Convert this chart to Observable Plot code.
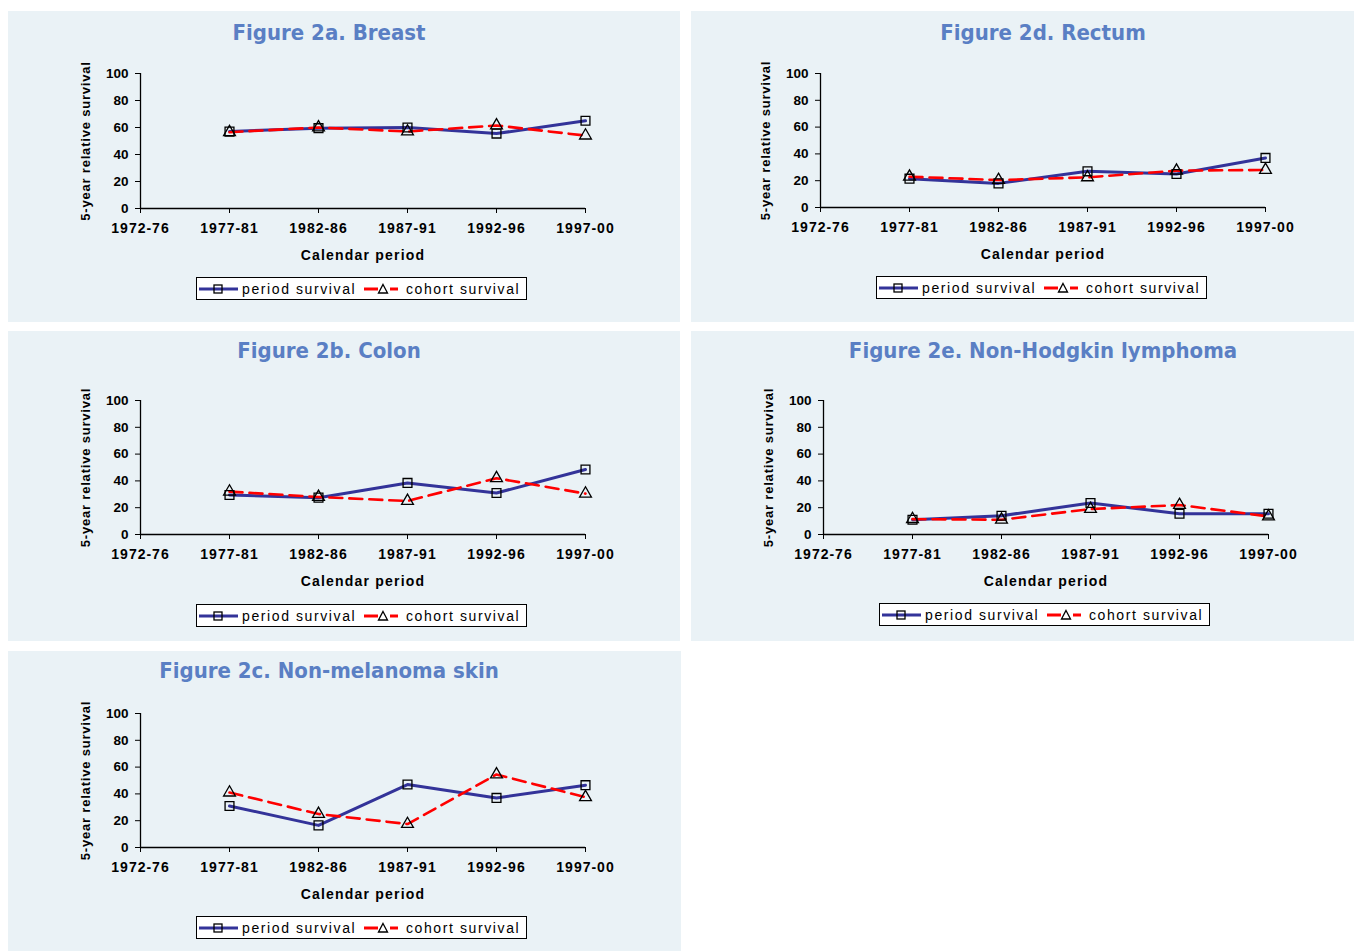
<!DOCTYPE html>
<html>
<head>
<meta charset="utf-8">
<script src="https://cdn.jsdelivr.net/npm/d3@7"></script>
<script src="https://cdn.jsdelivr.net/npm/@observablehq/plot@0.6"></script>
<style>
  html, body { margin: 0; padding: 0; background: #ffffff; }
  body { width: 1354px; height: 951px; position: relative; overflow: hidden; }
  .panel { position: absolute; background: #eaf2f6; }
  .title { position: absolute; transform: translate(-50%, -50%); white-space: nowrap;
    font-family: "DejaVu Sans Condensed", "DejaVu Sans", sans-serif; font-weight: bold;
    font-size: 22px; color: #5a7fc4; }
  .panel svg.plot { position: absolute; left: 0; top: 0; }
  .panel svg.plot g[aria-label="x-axis tick label"] text { letter-spacing: 1px; }
  .legend { position: absolute; height: 21px; width: 329px; background: #fff; border: 1px solid #000;
    display: flex; align-items: center; font-family: "Liberation Sans", Arial, sans-serif;
    font-size: 14px; letter-spacing: 1.6px; color: #000; box-sizing: content-box; }
  .legend svg { display: block; flex: none; }
  .legend span { white-space: nowrap; flex: none; }
</style>
</head>
<body>
<script>
// ---- data ----
const periods = ["1972-76", "1977-81", "1982-86", "1987-91", "1992-96", "1997-00"];
const yTicks = [0, 20, 40, 60, 80, 100];
const xLabel = "Calendar period";
const yLabel = "5-year relative survival";
const seriesNames = ["period survival", "cohort survival"];

// values for 1977-81 .. 1997-00 (no value for 1972-76)
const breastPeriod = [57, 59.5, 60, 55.5, 65];
const breastCohort = [56.5, 60, 57, 61.5, 54];
const rectumPeriod = [21.5, 18, 27, 25, 37];
const rectumCohort = [23, 20.5, 22.5, 27.5, 28];
const colonPeriod  = [29.5, 27.5, 38.5, 31, 48.5];
const colonCohort  = [32, 28, 25, 42, 30.5];
const nhlPeriod    = [11, 14, 23.5, 15.5, 15.5];
const nhlCohort    = [11.5, 11, 19, 22, 13.5];
const skinPeriod   = [31, 16.5, 47, 37, 46.5];
const skinCohort   = [41, 25, 17.5, 54.5, 37.5];

const titles = {
  breast: "Figure 2a. Breast",
  rectum: "Figure 2d. Rectum",
  colon: "Figure 2b. Colon",
  nhl: "Figure 2e. Non-Hodgkin lymphoma",
  skin: "Figure 2c. Non-melanoma skin"
};
const seriesData = {
  breast: [breastPeriod, breastCohort],
  rectum: [rectumPeriod, rectumCohort],
  colon: [colonPeriod, colonCohort],
  nhl: [nhlPeriod, nhlCohort],
  skin: [skinPeriod, skinCohort]
};

// ---- layout (positions only) ----
const layout = [
  {key: "breast", left: 8,   top: 11,  w: 672, h: 311, tx: 321, ty: 21, fl: 132, fr: 577, y100: 62, y0: 197, lx: 188, ly: 266},
  {key: "rectum", left: 691, top: 11,  w: 663, h: 311, tx: 352, ty: 21, fl: 129, fr: 574, y100: 62, y0: 196, lx: 185, ly: 265},
  {key: "colon",  left: 8,   top: 331, w: 672, h: 310, tx: 321, ty: 19, fl: 132, fr: 577, y100: 69, y0: 203, lx: 188, ly: 273},
  {key: "nhl",    left: 691, top: 331, w: 663, h: 310, tx: 352, ty: 19, fl: 132, fr: 577, y100: 69, y0: 203, lx: 188, ly: 272},
  {key: "skin",   left: 8,   top: 651, w: 673, h: 300, tx: 321, ty: 19, fl: 132, fr: 577, y100: 62, y0: 196, lx: 188, ly: 265}
];

const BLUE = "#333399";
const RED = "#ff0000";

function legendIcon(color, dashed, symbol) {
  const ns = "http://www.w3.org/2000/svg";
  const svg = document.createElementNS(ns, "svg");
  svg.setAttribute("width", 42); svg.setAttribute("height", 14);
  const mk = (x1, x2) => {
    const line = document.createElementNS(ns, "line");
    line.setAttribute("x1", x1); line.setAttribute("x2", x2); line.setAttribute("y1", 7); line.setAttribute("y2", 7);
    line.setAttribute("stroke", color); line.setAttribute("stroke-width", 3);
    svg.appendChild(line);
  };
  if (dashed) { mk(1, 15); mk(27, 35); } else { mk(2, 41); }
  if (symbol === "square") {
    const r = document.createElementNS(ns, "rect");
    r.setAttribute("x", 17); r.setAttribute("y", 3); r.setAttribute("width", 8); r.setAttribute("height", 8);
    r.setAttribute("fill", "none"); r.setAttribute("stroke", "#000"); r.setAttribute("stroke-width", 1.3);
    svg.appendChild(r);
  } else {
    const p = document.createElementNS(ns, "path");
    p.setAttribute("d", "M20,2.5 L24.5,11 L15.5,11 Z");
    p.setAttribute("fill", "none"); p.setAttribute("stroke", "#000"); p.setAttribute("stroke-width", 1.3);
    svg.appendChild(p);
  }
  return svg;
}

for (const L of layout) {
  const panel = document.createElement("div");
  panel.className = "panel";
  Object.assign(panel.style, {left: L.left + "px", top: L.top + "px", width: L.w + "px", height: L.h + "px"});
  document.body.appendChild(panel);

  const [pv, cv] = seriesData[L.key];
  const rows = [];
  pv.forEach((v, i) => rows.push({period: periods[i + 1], value: v, series: seriesNames[0]}));
  cv.forEach((v, i) => rows.push({period: periods[i + 1], value: v, series: seriesNames[1]}));
  const pRows = rows.filter(d => d.series === seriesNames[0]);
  const cRows = rows.filter(d => d.series === seriesNames[1]);

  const chart = Plot.plot({
    width: L.w,
    height: L.y0 + 64,
    marginLeft: L.fl,
    marginRight: L.w - L.fr,
    marginTop: L.y100,
    marginBottom: 64,
    style: {background: "transparent", fontFamily: "'Liberation Sans', Arial, sans-serif", fontSize: "14px", fontWeight: "bold", color: "#000", overflow: "visible"},
    x: {type: "point", domain: periods, padding: 0, label: null},
    y: {domain: [0, 100], label: null},
    marks: [
      Plot.axisY({ticks: yTicks, tickSize: 5, tickPadding: 7, label: null, stroke: "#000", strokeOpacity: 1, fontSize: 13.5}),
      Plot.axisX({tickSize: 5, tickPadding: 10, label: null, stroke: "#000", strokeOpacity: 1, fontSize: 14}),
      Plot.ruleX([periods[0]], {stroke: "#000", strokeWidth: 1.3}),
      Plot.ruleY([0], {stroke: "#000", strokeWidth: 1.3}),
      Plot.line(pRows, {x: "period", y: "value", stroke: BLUE, strokeWidth: 3}),
      Plot.line(cRows, {x: "period", y: "value", stroke: RED, strokeWidth: 2.6, strokeDasharray: "13,7"}),
      Plot.dot(pRows, {x: "period", y: "value", symbol: "square", r: 5, stroke: "#000", strokeWidth: 1.3, fill: "none"}),
      Plot.dot(cRows, {x: "period", y: "value", symbol: "triangle", r: 4.4, stroke: "#000", strokeWidth: 1.3, fill: "none"}),
      Plot.text([xLabel], {text: d => d, frameAnchor: "bottom", dy: 51, fontSize: 14, fontWeight: "bold"}),
      Plot.text([yLabel], {text: d => d, frameAnchor: "left", textAnchor: "middle", rotate: -90, dx: -55, fontSize: 13, fontWeight: "bold"})
    ]
  });
  chart.classList.add("plot");
  d3.select(chart).selectAll("text").each(function() {
    const t = this.textContent;
    if (t === xLabel) this.style.letterSpacing = "1.2px";
    else if (t === yLabel) this.style.letterSpacing = "0.8px";
  });
  panel.appendChild(chart);

  const title = document.createElement("div");
  title.className = "title";
  title.textContent = titles[L.key];
  Object.assign(title.style, {left: L.tx + "px", top: L.ty + "px"});
  panel.appendChild(title);

  const legend = document.createElement("div");
  legend.className = "legend";
  Object.assign(legend.style, {left: L.lx + "px", top: L.ly + "px"});
  legend.appendChild(legendIcon(BLUE, false, "square"));
  const s1 = document.createElement("span"); s1.textContent = seriesNames[0];
  Object.assign(s1.style, {marginLeft: "3px", width: "121px"});
  legend.appendChild(s1);
  legend.appendChild(legendIcon(RED, true, "triangle"));
  const s2 = document.createElement("span"); s2.textContent = seriesNames[1];
  s2.style.marginLeft = "1px";
  legend.appendChild(s2);
  panel.appendChild(legend);
}
</script>
</body>
</html>
